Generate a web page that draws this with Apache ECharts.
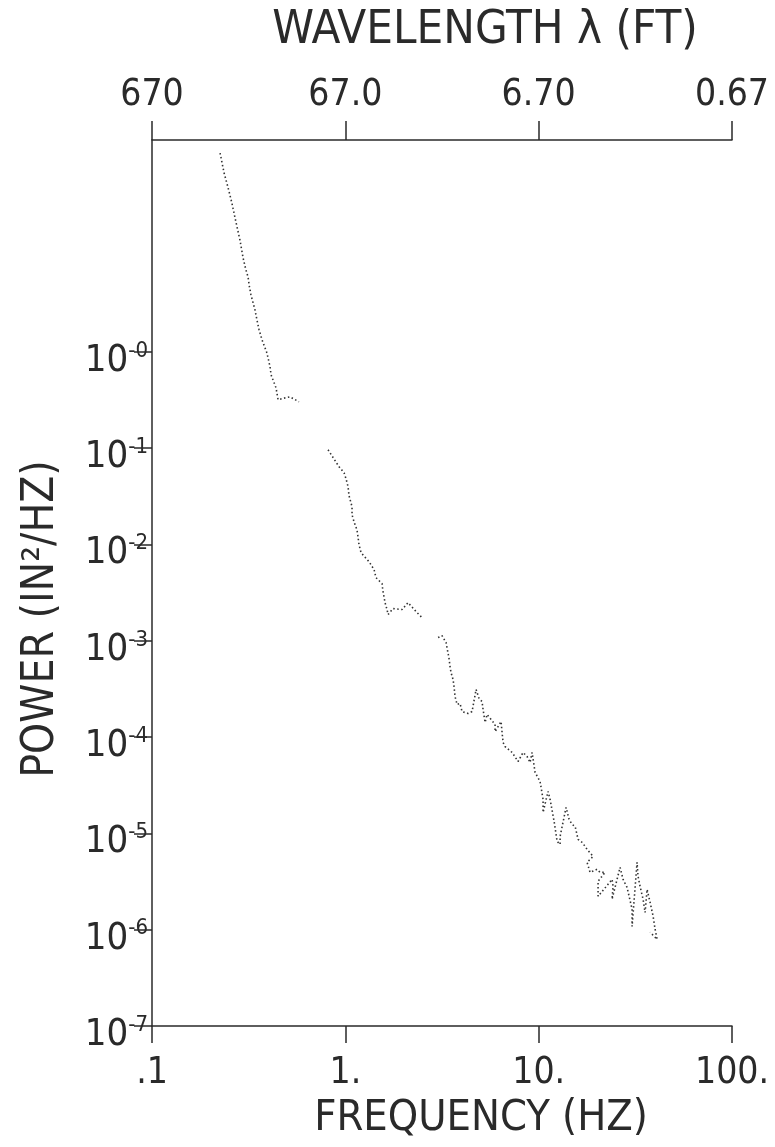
<!DOCTYPE html>
<html>
<head>
<meta charset="utf-8">
<script src="https://cdn.jsdelivr.net/npm/echarts@6/dist/echarts.min.js"></script>
<style>
html, body { margin: 0; background: #fff; }
#main { width: 775px; height: 1147px; }
</style>
</head>
<body>
<div id="main"></div>
<script>
// axis ticks and labels
var freqTicks = [0.1, 1, 10, 100];
var freqLabels = ['.1', '1.', '10.', '100.'];
var waveLabels = ['670', '67.0', '6.70', '0.67'];
var powerTicks = [1e-7, 1e-6, 1e-5, 1e-4, 1e-3, 1e-2, 1e-1, 1];
var powerExps = ['-7', '-6', '-5', '-4', '-3', '-2', '-1', '-0'];

// spectrum (HZ, IN^2/HZ); null = gap in the trace
var freq = [
    0.225, 0.236, 0.247, 0.259, 0.269, 0.285, 0.296, 0.306, 0.314, 0.318,
    0.325, 0.341, 0.349, 0.358, 0.371, 0.393, 0.408, 0.413, 0.438, 0.449,
    0.488, 0.518, 0.576, null,
    0.814, 0.928, 0.985, 1.008, 1.033, 1.045, 1.083, 1.083, 1.109, 1.149,
    1.163, 1.177, 1.206, 1.326, 1.408, 1.441, 1.548, 1.567, 1.605, 1.643,
    1.663, 1.765, 1.965, 2.110, 2.350, 2.523, null,
    3.018, 3.164, 3.319, 3.439, 3.480, 3.522, 3.607, 3.650, 3.694, 3.784,
    3.921, 4.016, 4.314, 4.524, 4.745, 4.917, 5.096, 5.158, 5.282, 5.410,
    5.950, 5.950, 6.391, 6.467, 6.545, 6.703, 7.288, 7.375, 7.824, 8.304,
    8.710, 9.026, 9.245, 9.582, 10.17, 10.54, 10.54, 11.18, 11.46, 12.02,
    12.46, 12.91, 12.91, 13.86, 14.37, 14.89, 15.44, 15.99, 16.77, 17.38,
    17.80, 19.12, 17.80, 18.45, 20.05, 20.78, 22.05, 20.29, 20.29, 23.97,
    24.26, 23.97, 26.37, 27.33, 28.66, 30.42, 30.42, 32.28, 32.67, 33.46,
    34.68, 35.52, 36.38, 37.71, 39.08, 40.02, 40.99, 37.71
];
var power = [
    116, 71.9, 51.5, 35.1, 24.5, 14.5, 9.44, 7.09, 6.00, 4.95,
    3.90, 2.73, 2.15, 1.69, 1.33, 0.976, 0.699, 0.577, 0.423, 0.318,
    0.333, 0.341, 0.303, null,
    0.0963, 0.0641, 0.0556, 0.0482, 0.0398, 0.0321, 0.0247, 0.0204, 0.0172, 0.0142,
    0.0120, 0.00995, 0.00822, 0.00663, 0.00548, 0.00453, 0.00392, 0.00324, 0.00249, 0.00211,
    0.00187, 0.00216, 0.00211, 0.00249, 0.00196, 0.00170, null,
    0.00108, 0.00113, 0.000958, 0.000654, 0.000540, 0.000468, 0.000396, 0.000335, 0.000264, 0.000218,
    0.000223, 0.000184, 0.000176, 0.000184, 0.000312, 0.000251, 0.000234, 0.000193, 0.000142, 0.000172,
    0.000135, 0.000114, 0.000145, 0.000112, 0.0000879, 0.0000798, 0.0000692, 0.0000660, 0.0000558, 0.0000692,
    0.0000629, 0.0000545, 0.0000692, 0.0000430, 0.0000346, 0.0000225, 0.0000165, 0.0000273, 0.0000225, 0.0000133,
    0.00000826, 0.00000769, 0.00000931, 0.0000186, 0.0000140, 0.0000124, 0.0000118, 0.00000867, 0.00000807, 0.00000733,
    0.00000683, 0.00000577, 0.00000500, 0.00000394, 0.00000424, 0.00000394, 0.00000394, 0.00000318, 0.00000222, 0.00000333,
    0.00000282, 0.00000207, 0.00000444, 0.00000333, 0.00000275, 0.00000163, 0.00000108, 0.00000500, 0.00000358, 0.00000282,
    0.00000207, 0.00000151, 0.00000262, 0.00000192, 0.00000138, 0.00000101, 0.000000795, 0.000000940
];

var FONT = '"DejaVu Sans Condensed", "DejaVu Sans", sans-serif';
var INK = '#2a2a2a';

function tickIndex(list, v) {
    var best = 0;
    for (var i = 0; i < list.length; i++) {
        if (Math.abs(Math.log10(list[i]) - Math.log10(v)) < Math.abs(Math.log10(list[best]) - Math.log10(v))) {
            best = i;
        }
    }
    return best;
}

var points = [];
for (var i = 0; i < freq.length; i++) {
    if (freq[i] == null) {
        points.push(['-', '-']);
    } else {
        points.push([freq[i], power[i]]);
    }
}

var chart = echarts.init(document.getElementById('main'));
chart.setOption({
    backgroundColor: '#fff',
    animation: false,
    grid: { left: 152, right: 43, top: 140, bottom: 121 },
    xAxis: [
        {
            type: 'log', logBase: 10, min: 0.1, max: 100,
            position: 'bottom',
            axisLine: { lineStyle: { color: INK, width: 1.5 } },
            axisTick: { length: 17, customValues: freqTicks, lineStyle: { color: INK, width: 1.5 } },
            axisLabel: {
                customValues: freqTicks, margin: 29, fontFamily: FONT, fontSize: 37, color: INK,
                formatter: function (v) { return freqLabels[tickIndex(freqTicks, v)]; }
            },
            splitLine: { show: false }
        },
        {
            type: 'log', logBase: 10, min: 0.1, max: 100,
            position: 'top',
            axisLine: { lineStyle: { color: INK, width: 1.5 } },
            axisTick: { length: 19, customValues: freqTicks, lineStyle: { color: INK, width: 1.5 } },
            axisLabel: {
                customValues: freqTicks, margin: 26, fontFamily: FONT, fontSize: 37, color: INK,
                formatter: function (v) { return waveLabels[tickIndex(freqTicks, v)]; }
            },
            splitLine: { show: false }
        }
    ],
    yAxis: {
        type: 'log', logBase: 10, min: 1e-7, max: Math.pow(10, 2.2),
        axisLine: { show: true, lineStyle: { color: INK, width: 1.5 } },
        axisTick: { length: 18, customValues: powerTicks, lineStyle: { color: INK, width: 1.5 } },
        axisLabel: {
            customValues: powerTicks, margin: 4, color: INK, padding: [16, 0, 0, 0],
            formatter: function (v) {
                return '{b|10}{s|' + powerExps[tickIndex(powerTicks, v)] + '}';
            },
            rich: {
                b: { fontFamily: FONT, fontSize: 38, color: INK, lineHeight: 40, verticalAlign: 'bottom' },
                s: { fontFamily: FONT, fontSize: 22, color: INK, lineHeight: 40, verticalAlign: 'top' }
            }
        },
        splitLine: { show: false }
    },
    graphic: [
        {
            type: 'text', x: 485, y: 7,
            style: { text: 'WAVELENGTH λ (FT)', font: '47px ' + FONT, fill: INK, align: 'center', verticalAlign: 'top' }
        },
        {
            type: 'text', x: 481, y: 1097,
            style: { text: 'FREQUENCY (HZ)', font: '43px ' + FONT, fill: INK, align: 'center', verticalAlign: 'top' }
        },
        {
            type: 'text', x: 20, y: 619, rotation: Math.PI / 2,
            style: { text: 'POWER (IN²/HZ)', font: '44px ' + FONT, fill: INK, align: 'center', verticalAlign: 'top' }
        }
    ],
    series: [
        {
            type: 'line',
            xAxisIndex: 0,
            data: points,
            showSymbol: false,
            connectNulls: false,
            lineStyle: { color: '#333', width: 1.6, type: [1.5, 2.5] }
        }
    ]
});
</script>
</body>
</html>
